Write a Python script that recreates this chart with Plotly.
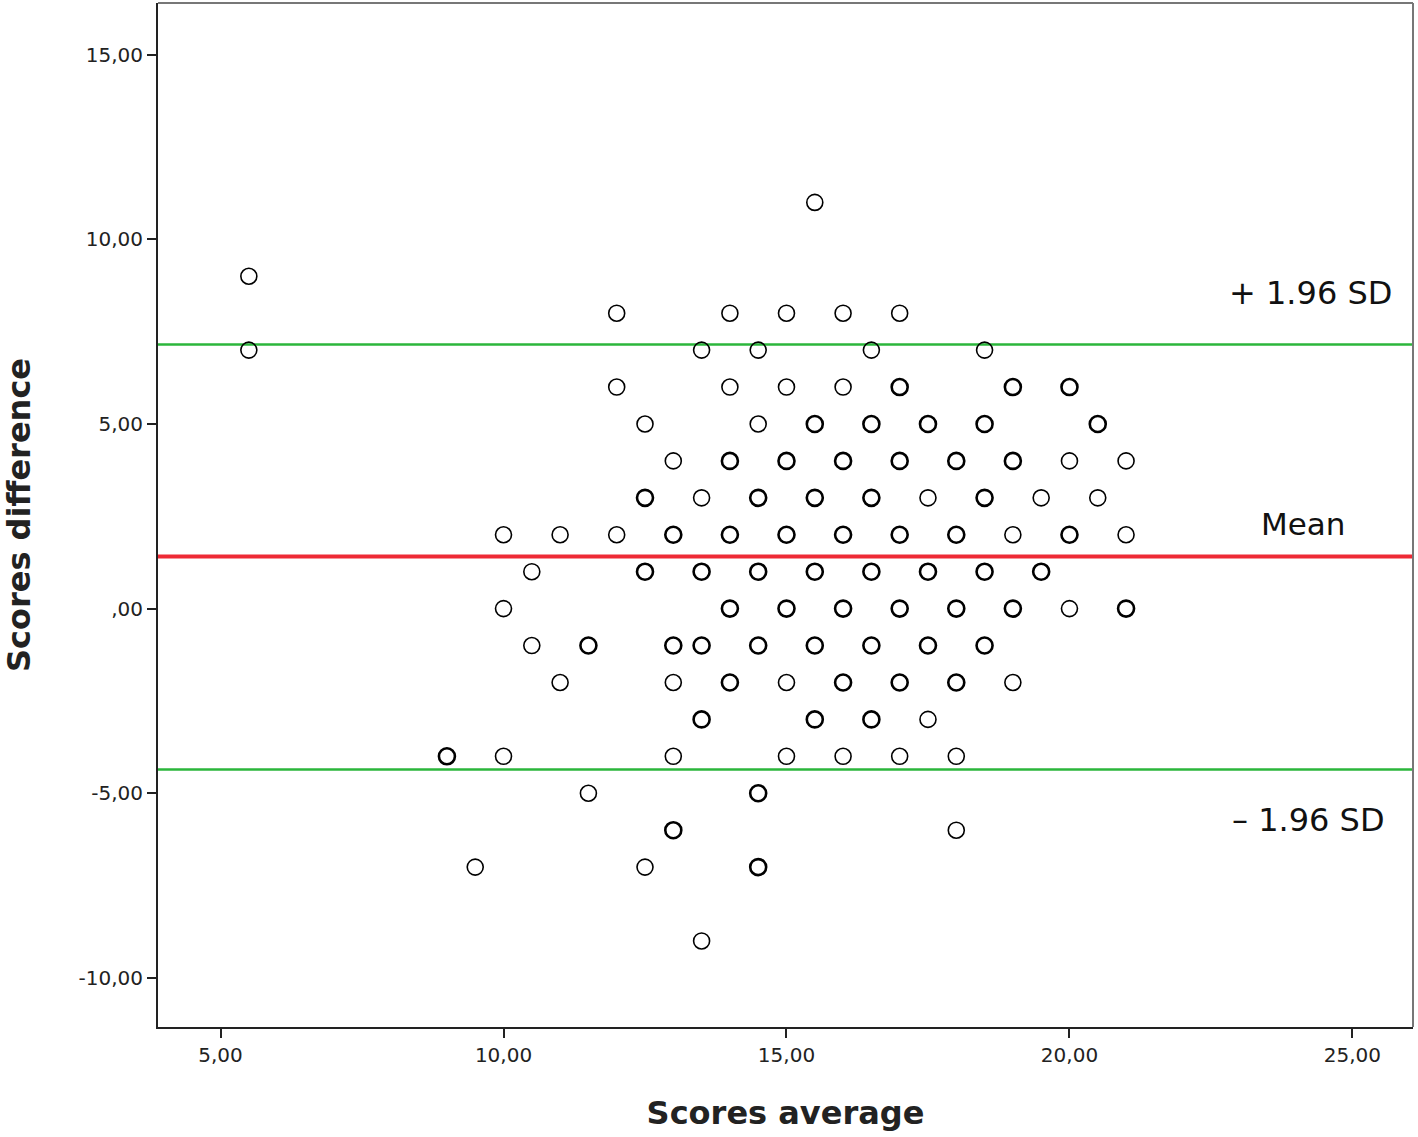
import pandas as pd
import plotly.graph_objects as go

# Bland-Altman data: score averages (x) and differences (y); repeated pairs are overlapping cases
avg_scores = [
    15.5,
    5.5,
    12, 14, 15, 16, 17,
    5.5, 13.5, 14.5, 16.5, 18.5,
    12, 14, 15, 16, 17, 17, 19, 19, 20, 20,
    12.5, 14.5, 15.5, 15.5, 16.5, 16.5, 17.5, 17.5, 18.5, 18.5, 20.5, 20.5,
    13, 14, 14, 15, 15, 16, 16, 17, 17, 18, 18, 19, 19, 20, 21,
    12.5, 12.5, 13.5, 14.5, 14.5, 15.5, 15.5, 16.5, 16.5, 17.5, 18.5, 18.5, 19.5, 20.5,
    10, 11, 12, 13, 13, 14, 14, 15, 15, 16, 16, 17, 17, 18, 18, 19, 20, 20, 21,
    10.5, 12.5, 12.5, 13.5, 13.5, 14.5, 14.5, 15.5, 15.5, 16.5, 16.5, 17.5, 17.5, 18.5, 18.5, 19.5, 19.5,
    10, 14, 14, 15, 15, 16, 16, 17, 17, 18, 18, 19, 19, 20, 21, 21,
    10.5, 11.5, 11.5, 13, 13, 13.5, 13.5, 14.5, 14.5, 15.5, 15.5, 16.5, 16.5, 17.5, 17.5, 18.5, 18.5,
    11, 13, 14, 14, 15, 16, 16, 17, 17, 18, 18, 19,
    13.5, 13.5, 15.5, 15.5, 16.5, 16.5, 17.5,
    9, 9, 10, 13, 15, 16, 17, 18,
    11.5, 14.5, 14.5,
    13, 13, 18,
    9.5, 12.5, 14.5, 14.5,
    13.5,
]
diff_scores = (
    [11] * 1 + [9] * 1 + [8] * 5 + [7] * 5 + [6] * 10 + [5] * 12 + [4] * 15
    + [3] * 14 + [2] * 19 + [1] * 17 + [0] * 16 + [-1] * 17 + [-2] * 12
    + [-3] * 7 + [-4] * 8 + [-5] * 3 + [-6] * 3 + [-7] * 4 + [-9] * 1
)

mean_diff = 1.41
upper_loa = 7.15
lower_loa = -4.36

x_ticks = [5, 10, 15, 20, 25]
x_tick_text = ["5,00", "10,00", "15,00", "20,00", "25,00"]
y_ticks = [15, 10, 5, 0, -5, -10]
y_tick_text = ["15,00", "10,00", "5,00", ",00", "-5,00", "-10,00"]

df = pd.DataFrame({"avg": avg_scores, "diff": diff_scores})
pts = df.groupby(["avg", "diff"]).size().reset_index(name="n")
line_w = [1.6 if n == 1 else 2.6 for n in pts["n"]]

FONT = "DejaVu Sans"

fig = go.Figure()

for yv, col, w in [(upper_loa, "#2bb63b", 2.5), (lower_loa, "#2bb63b", 2.5), (mean_diff, "#ee2a35", 4)]:
    fig.add_hline(y=yv, line_color=col, line_width=w, layer="below")

fig.add_trace(go.Scatter(
    x=pts["avg"],
    y=pts["diff"],
    mode="markers",
    marker=dict(
        symbol="circle-open",
        size=16,
        color="black",
        line=dict(color="black", width=line_w),
    ),
    showlegend=False,
))

labels = [("+ 1.96 SD", 24.25, 8.54, 32), ("Mean", 24.13, 2.28, 31), ("\u2013 1.96 SD", 24.23, -5.72, 32)]
for txt, xv, yv, sz in labels:
    fig.add_annotation(
        x=xv, y=yv, text=txt, showarrow=False,
        font=dict(family=FONT, size=sz, color="#111111"),
        xanchor="center", yanchor="middle",
    )

fig.update_xaxes(
    range=[3.895, 26.07],
    tickvals=x_ticks, ticktext=x_tick_text,
    ticks="outside", ticklen=9, tickwidth=2, tickcolor="#222222",
    showline=True, linecolor="#222222", linewidth=2,
    mirror=False, showgrid=False, zeroline=False, automargin=False,
    tickfont=dict(family=FONT, size=20, color="#222222"),
    title=dict(text="<b>Scores average</b>", font=dict(family=FONT, size=32, color="#222222"), standoff=36),
)
fig.update_yaxes(
    range=[-11.33, 16.4],
    tickvals=y_ticks, ticktext=y_tick_text,
    ticks="outside", ticklen=9, tickwidth=2, tickcolor="#222222",
    showline=True, linecolor="#222222", linewidth=2,
    mirror=False, showgrid=False, zeroline=False, automargin=False,
    tickfont=dict(family=FONT, size=20, color="#222222"),
    title=dict(text="<b>Scores difference</b>", font=dict(family=FONT, size=32, color="#222222"), standoff=38),
)

# grey frame on top and right
fig.add_shape(type="line", xref="paper", yref="paper", x0=0, x1=1, y0=1, y1=1,
              line=dict(color="#777777", width=2))
fig.add_shape(type="line", xref="paper", yref="paper", x0=1, x1=1, y0=0, y1=1,
              line=dict(color="#777777", width=2))

fig.update_layout(
    width=1418, height=1137,
    paper_bgcolor="white", plot_bgcolor="white",
    margin=dict(l=158, r=5, t=3, b=110),
    font_family=FONT,
)

fig.write_html("out.html", config={"displayModeBar": False},
               post_script="document.body.style.margin='0';")
